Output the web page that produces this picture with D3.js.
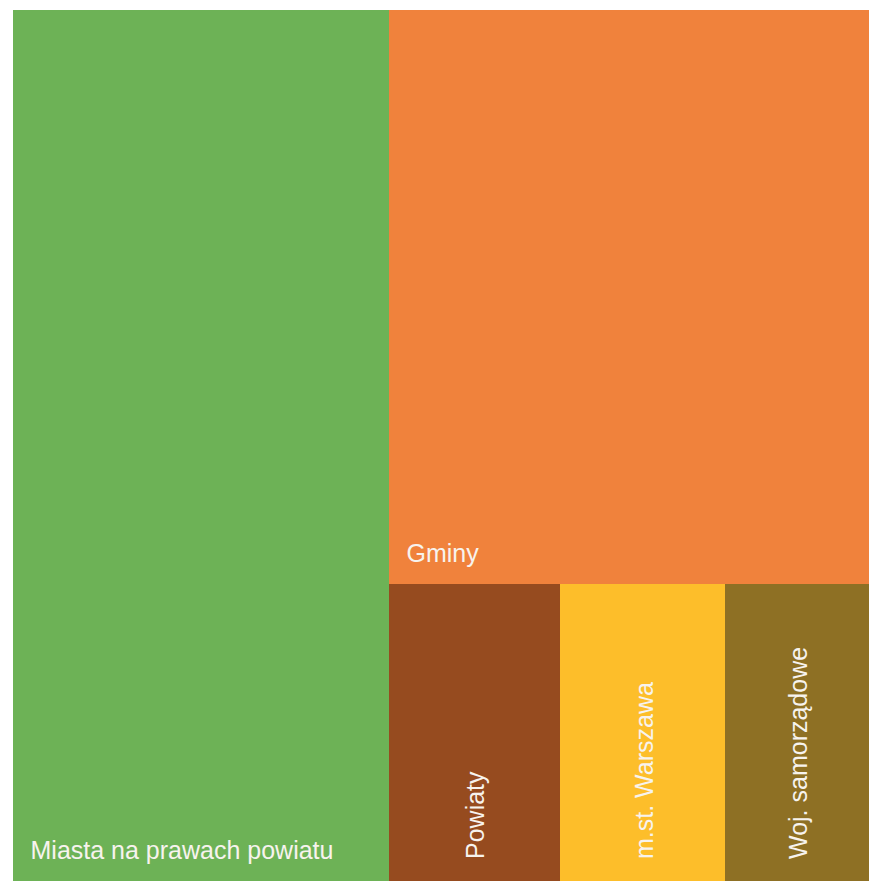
<!DOCTYPE html>
<html>
<head>
<meta charset="utf-8">
<script src="https://cdn.jsdelivr.net/npm/d3@7"></script>
<style>
  html, body { margin: 0; padding: 0; background: #ffffff; }
  svg { display: block; }
</style>
</head>
<body>
<svg id="chart" width="869" height="881"></svg>
<script>
// Data (share of total, %)
const categories = ["Miasta na prawach powiatu", "Gminy", "Powiaty", "m.st. Warszawa", "Woj. samorządowe"];
const values = [43.9, 36.95, 6.85, 6.55, 5.75];
const colors = ["#6DB256", "#F0823C", "#964B1F", "#FDBE2A", "#8E7024"];
const rotated = [false, false, true, true, true];

const W = 869, H = 881;
const margin = { top: 10, right: 0, bottom: 0, left: 12.5 };

// Nested grouping reproducing the slice/dice arrangement
const tree = {
  name: "root",
  children: [
    { name: categories[0], idx: 0, value: values[0] },
    { name: "rest", children: [
      { name: categories[1], idx: 1, value: values[1] },
      { name: "small", children: [
        { name: categories[2], idx: 2, value: values[2] },
        { name: categories[3], idx: 3, value: values[3] },
        { name: categories[4], idx: 4, value: values[4] }
      ]}
    ]}
  ]
};

const root = d3.hierarchy(tree).sum(d => d.value || 0);
d3.treemap()
  .tile(d3.treemapSliceDice)
  .size([W - margin.left - margin.right, H - margin.top - margin.bottom])
  .round(false)(root);

const svg = d3.select("#chart");
const g = svg.append("g").attr("transform", `translate(${margin.left},${margin.top})`);

const leaves = root.leaves();

g.selectAll("rect")
  .data(leaves)
  .join("rect")
  .attr("x", d => d.x0)
  .attr("y", d => d.y0)
  .attr("width", d => d.x1 - d.x0)
  .attr("height", d => d.y1 - d.y0)
  .attr("shape-rendering", "crispEdges")
  .attr("fill", d => colors[d.data.idx]);

const fontSize = 25;
g.selectAll("text")
  .data(leaves)
  .join("text")
  .attr("font-family", "'Liberation Sans', Arial, sans-serif")
  .attr("font-size", fontSize)
  .attr("fill", "#f7f3ee")
  .attr("transform", d => {
    if (rotated[d.data.idx]) {
      const cx = (d.x0 + d.x1) / 2 + 1 + fontSize * 0.36;
      return `translate(${cx},${d.y1 - 22}) rotate(-90)`;
    }
    return `translate(${d.x0 + 18},${d.y1 - 22})`;
  })
  .text(d => d.data.name);
</script>
</body>
</html>
